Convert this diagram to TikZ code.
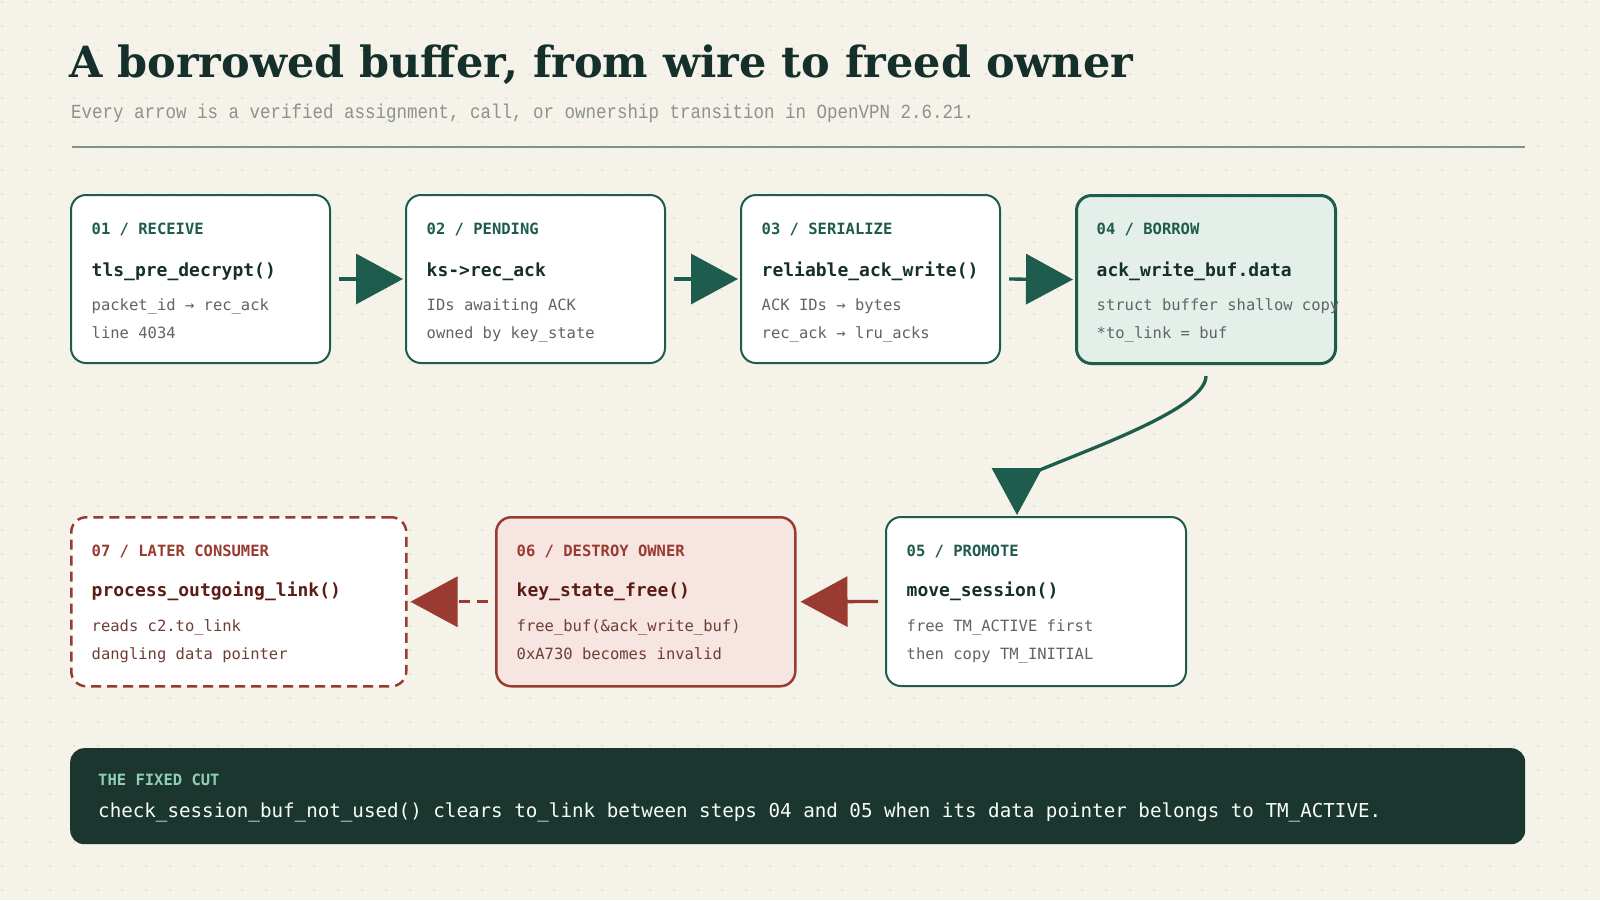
\documentclass[tikz,border=0pt]{standalone}
\usepackage{fontspec}
\setmainfont{DejaVu Serif}
\newfontfamily\codefont{DejaVu Sans Mono}
\newfontfamily\notefont[FakeStretch=0.875]{Liberation Mono}
\usetikzlibrary{arrows.meta}

\definecolor{paper}{HTML}{F5F2EA}
\definecolor{dotgrey}{HTML}{E5E0D6}
\definecolor{ink}{HTML}{15302A}
\definecolor{pine}{HTML}{1E5C4E}
\definecolor{mint}{HTML}{E5EFE9}
\definecolor{slate}{HTML}{5E6563}
\definecolor{rust}{HTML}{9A3B31}
\definecolor{blush}{HTML}{F6E5E0}
\definecolor{wine}{HTML}{5B1D16}
\definecolor{clay}{HTML}{6E3E36}
\definecolor{night}{HTML}{1B362F}
\definecolor{sage}{HTML}{8FCFB4}
\definecolor{rulegrey}{HTML}{7D948A}
\definecolor{subgrey}{HTML}{8A938E}

\begin{document}
\begin{tikzpicture}
        [x=1pt, y=-1pt,
        card/.style={draw=pine, line width=2pt, fill=white, rounded corners=15pt,
          anchor=north west, inner sep=0pt, minimum height=168pt},
        borrowcard/.style={card, fill=mint, line width=3pt},
        ownercard/.style={card, draw=rust, fill=blush, line width=2.5pt},
        latercard/.style={card, draw=rust, line width=2.5pt, dash pattern=on 10pt off 6pt},
        tag/.style={anchor=base west, inner sep=0pt, text=pine,
          font=\codefont\bfseries\fontsize{15.5}{18}\selectfont},
        fn/.style={anchor=base west, inner sep=0pt, text=ink,
          font=\codefont\bfseries\fontsize{18}{22}\selectfont},
        note/.style={anchor=base west, inner sep=0pt, text=slate,
          font=\codefont\fontsize{15.5}{18}\selectfont},
        flow/.style={draw=pine, line width=3.3pt, -{Triangle[length=47pt,width=50pt]}},
        backflow/.style={flow, draw=rust}]
        % paper and dot grid
        \fill[paper] (0,0) rectangle (1600,900);
        \useasboundingbox (0,0) rectangle (1600,900);
        \foreach \i in {0,...,66}
          \foreach \j in {0,...,37}
            \fill[dotgrey] (1+24*\i,1+24*\j) rectangle +(2,2);
        % heading
        \node (title) [anchor=base west, inner sep=0pt, text=ink,
          font=\bfseries\fontsize{43}{50}\selectfont] at (69,77)
          {A borrowed buffer, from wire to freed owner};
        \node (subtitle) [anchor=base west, inner sep=0pt, text=subgrey,
          font=\notefont\fontsize{20}{24}\selectfont] at (71,118)
          {Every arrow is a verified assignment, call, or ownership transition in OpenVPN 2.6.21.};
        \draw[rulegrey, line width=2pt] (72,147) -- (1525,147);
        % top row
        \node (recv) [card, minimum width=259pt] at (70,194) {};
        \node (pend) [card, minimum width=259pt] at (405,194) {};
        \node (ser) [card, minimum width=259pt] at (740,194) {};
        \node (borrow) [borrowcard, minimum width=259pt] at (1075,194) {};
        \node (recv-tag) [tag] at ([shift={(21.5,40.5)}]recv.north west) {01 / RECEIVE};
        \node (recv-fn) [fn] at ([shift={(21.5,82)}]recv.north west) {tls\_pre\_decrypt()};
        \node (recv-a) [note] at ([shift={(21.5,116)}]recv.north west) {packet\_id → rec\_ack};
        \node (recv-b) [note] at ([shift={(21.5,144.5)}]recv.north west) {line 4034};
        \node (pend-tag) [tag] at ([shift={(21.5,40.5)}]pend.north west) {02 / PENDING};
        \node (pend-fn) [fn] at ([shift={(21.5,82)}]pend.north west) {ks->rec\_ack};
        \node (pend-a) [note] at ([shift={(21.5,116)}]pend.north west) {IDs awaiting ACK};
        \node (pend-b) [note] at ([shift={(21.5,144.5)}]pend.north west) {owned by key\_state};
        \node (ser-tag) [tag] at ([shift={(21.5,40.5)}]ser.north west) {03 / SERIALIZE};
        \node (ser-fn) [fn] at ([shift={(21.5,82)}]ser.north west) {reliable\_ack\_write()};
        \node (ser-a) [note] at ([shift={(21.5,116)}]ser.north west) {ACK IDs → bytes};
        \node (ser-b) [note] at ([shift={(21.5,144.5)}]ser.north west) {rec\_ack → lru\_acks};
        \node (borrow-tag) [tag] at ([shift={(21.5,40.5)}]borrow.north west) {04 / BORROW};
        \node (borrow-fn) [fn] at ([shift={(21.5,82)}]borrow.north west) {ack\_write\_buf.data};
        \node (borrow-a) [note] at ([shift={(21.5,116)}]borrow.north west) {struct buffer shallow copy};
        \node (borrow-b) [note] at ([shift={(21.5,144.5)}]borrow.north west) {*to\_link = buf};
        % bottom row
        \node (later) [latercard, minimum width=335pt, minimum height=169pt] at (70,516) {};
        \node (destroy) [ownercard, minimum width=299pt, minimum height=169pt] at (495,516) {};
        \node (promote) [card, minimum width=300pt, minimum height=169pt] at (885,516) {};
        \node (promote-tag) [tag] at ([shift={(21.5,40.5)}]promote.north west) {05 / PROMOTE};
        \node (promote-fn) [fn] at ([shift={(21.5,80)}]promote.north west) {move\_session()};
        \node (promote-a) [note] at ([shift={(21.5,115)}]promote.north west) {free TM\_ACTIVE first};
        \node (promote-b) [note] at ([shift={(21.5,143)}]promote.north west) {then copy TM\_INITIAL};
        \node (destroy-tag) [tag, text=rust] at ([shift={(21.5,40.5)}]destroy.north west) {06 / DESTROY OWNER};
        \node (destroy-fn) [fn, text=wine] at ([shift={(21.5,80)}]destroy.north west) {key\_state\_free()};
        \node (destroy-a) [note, text=clay] at ([shift={(21.5,115)}]destroy.north west) {free\_buf(\&ack\_write\_buf)};
        \node (destroy-b) [note, text=clay] at ([shift={(21.5,143)}]destroy.north west) {0xA730 becomes invalid};
        \node (later-tag) [tag, text=rust] at ([shift={(21.5,40.5)}]later.north west) {07 / LATER CONSUMER};
        \node (later-fn) [fn, text=wine] at ([shift={(21.5,80)}]later.north west) {process\_outgoing\_link()};
        \node (later-a) [note, text=clay] at ([shift={(21.5,115)}]later.north west) {reads c2.to\_link};
        \node (later-b) [note, text=clay] at ([shift={(21.5,143)}]later.north west) {dangling data pointer};
        % arrows
        \draw[flow, shorten <=8pt, shorten >=2pt] (recv.east) -- (pend.west);
        \draw[flow, shorten <=8pt, shorten >=2pt] (pend.east) -- (ser.west);
        \draw[flow, shorten <=8pt, shorten >=2pt] (ser.east) -- (borrow.west);
        \draw[flow, shorten <=11pt, shorten >=1pt] (borrow.south)
          .. controls +(0,47) and +(45,-22) .. ([xshift=-19pt,yshift=36pt]promote.north)
          -- ([xshift=-19pt]promote.north);
        \draw[backflow, shorten <=7pt, shorten >=4pt] (promote.west) -- (destroy.east);
        \draw[backflow, shorten <=7pt, shorten >=3pt, dash pattern=on 11pt off 7pt]
          (destroy.west) -- (later.east);
        % the fix
        \node (cut) [fill=night, rounded corners=14pt, anchor=north west, inner sep=0pt,
          minimum width=1455pt, minimum height=96pt] at (70,748) {};
        \node (cut-tag) [tag, text=sage] at ([shift={(28,37.7)}]cut.north west) {THE FIXED CUT};
        \node (cut-text) [note, text=white!93!sage, font=\codefont\fontsize{19.2}{23}\selectfont]
          at ([shift={(28,69.3)}]cut.north west)
          {check\_session\_buf\_not\_used() clears to\_link between steps 04 and 05 when its data pointer belongs to TM\_ACTIVE.};
      \end{tikzpicture}
\end{document}
